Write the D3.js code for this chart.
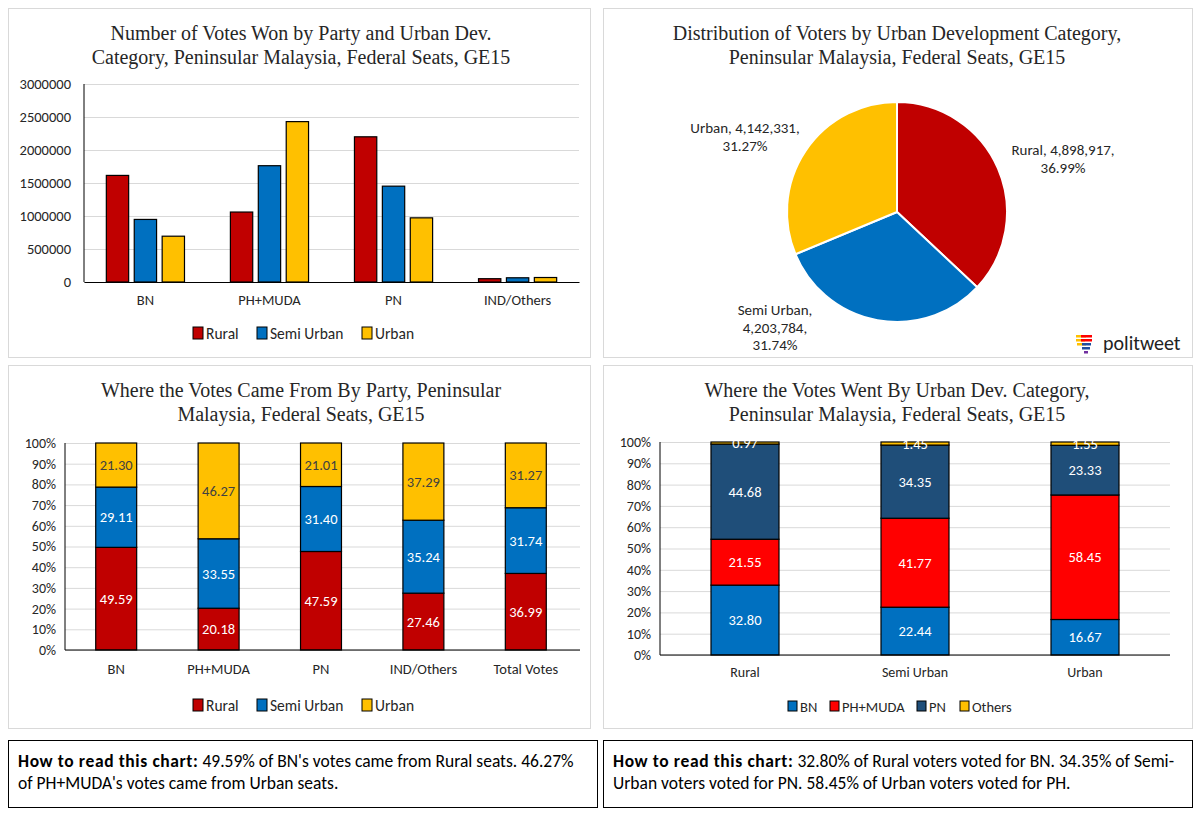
<!DOCTYPE html>
<html>
<head>
<meta charset="utf-8">
<script src="https://cdn.jsdelivr.net/npm/d3@7"></script>
<style>
  body { margin: 0; background: #fff; }
  text { font-family: Carlito, Lato, "Liberation Sans", sans-serif; }
  .title { font-family: "Liberation Serif", "DejaVu Serif", serif; font-size: 20px; fill: #262626; }
</style>
</head>
<body>
<div id="chart"></div>
<script>
// data
const parties = ["BN", "PH+MUDA", "PN", "IND/Others"];
const urbanCats = ["Rural", "Semi Urban", "Urban"];
const votesRural = [1615000, 1060000, 2200000, 50000];
const votesSemi = [948000, 1762000, 1452000, 64000];
const votesUrban = [694000, 2430000, 972000, 68000];
const yTicks1 = [0, 500000, 1000000, 1500000, 2000000, 2500000, 3000000];

const voterCount = [4898917, 4203784, 4142331];
const voterPct = [36.99, 31.74, 31.27];

const shareParties = ["BN", "PH+MUDA", "PN", "IND/Others", "Total Votes"];
const shareRural = [49.59, 20.18, 47.59, 27.46, 36.99];
const shareSemi = [29.11, 33.55, 31.40, 35.24, 31.74];
const shareUrban = [21.30, 46.27, 21.01, 37.29, 31.27];

const wentParties = ["BN", "PH+MUDA", "PN", "Others"];
const wentBN = [32.80, 22.44, 16.67];
const wentPH = [21.55, 41.77, 58.45];
const wentPN = [44.68, 34.35, 23.33];
const wentOthers = [0.97, 1.45, 1.55];
const pctTicks = [0, 10, 20, 30, 40, 50, 60, 70, 80, 90, 100];

const cRural = "#C00000", cSemi = "#0070C0", cUrban = "#FFC000";
const cBN = "#0070C0", cPH = "#FF0000", cPN = "#1F4E79", cOth = "#FFC000";
const grid = "#d9d9d9";

const svg = d3.select("#chart").append("svg")
  .attr("width", 1200).attr("height", 815);

// panel borders
const panels = [[8, 8, 582, 349], [603, 8, 589, 349], [8, 365, 582, 363], [603, 365, 589, 363]];
svg.selectAll("rect.panel").data(panels).join("rect")
  .attr("x", d => d[0] + 0.5).attr("y", d => d[1] + 0.5)
  .attr("width", d => d[2]).attr("height", d => d[3])
  .attr("fill", "none").attr("stroke", "#d9d9d9");

function title(lines, cx, y0) {
  lines.forEach((t, i) => {
    svg.append("text").attr("class", "title").attr("x", cx).attr("y", y0 + i * 24)
      .attr("text-anchor", "middle").text(t);
  });
}

function legend(items, colors, xs, y) {
  items.forEach((t, i) => {
    svg.append("rect").attr("x", xs[i]).attr("y", y - 12).attr("width", 10).attr("height", 12)
      .attr("fill", colors[i]).attr("stroke", "#000").attr("stroke-width", 1);
    svg.append("text").attr("x", xs[i] + 13).attr("y", y).attr("font-size", 15.5)
      .attr("fill", "#262626").text(t);
  });
}

// ---------- chart 1: grouped bars
title(["Number of Votes Won by Party and Urban Dev.", "Category, Peninsular Malaysia, Federal Seats, GE15"], 301, 40);
{
  const x = d3.scaleBand().domain(parties).range([84, 579]).paddingInner(0.37).paddingOuter(0.18);
  const x1 = d3.scaleBand().domain(urbanCats).range([0, x.bandwidth()]).paddingInner(0.2);
  const y = d3.scaleLinear().domain([0, 3000000]).range([282, 84]);
  const g = svg.append("g");
  g.append("g").attr("transform", "translate(84,0)")
    .call(d3.axisLeft(y).tickValues(yTicks1).tickSize(-495).tickFormat(d3.format("d")))
    .call(a => a.select(".domain").remove())
    .call(a => a.selectAll("line").attr("stroke", grid))
    .call(a => a.selectAll("text").attr("font-size", 14.5).attr("fill", "#262626").attr("x", -13));
  const series = [votesRural, votesSemi, votesUrban];
  const cols = [cRural, cSemi, cUrban];
  series.forEach((vals, si) => {
    g.selectAll(null).data(vals).join("rect")
      .attr("x", (d, i) => x(parties[i]) + x1(urbanCats[si]))
      .attr("y", d => y(d)).attr("width", x1.bandwidth()).attr("height", d => y(0) - y(d))
      .attr("fill", cols[si]).attr("stroke", "#000").attr("stroke-width", 1.2);
  });
  g.append("line").attr("x1", 84).attr("x2", 84).attr("y1", 84).attr("y2", 282).attr("stroke", "#000");
  g.append("g").attr("transform", "translate(0,282)")
    .call(d3.axisBottom(x).tickSize(0).tickPadding(13))
    .call(a => a.select(".domain").attr("stroke", "#000").attr("stroke-width", 1.2))
    .call(a => a.selectAll("text").attr("font-size", 14.5).attr("fill", "#262626"));
  legend(urbanCats, cols, [193, 257, 362], 339);
}

// ---------- chart 2: pie
title(["Distribution of Voters by Urban Development Category,", "Peninsular Malaysia, Federal Seats, GE15"], 897, 40);
{
  const cx = 897, cy = 212, r = 110;
  const pie = d3.pie().sort(null).value(d => d);
  const arcs = pie(voterCount);
  const arc = d3.arc().innerRadius(0).outerRadius(r);
  const cols = [cRural, cSemi, cUrban];
  const g = svg.append("g").attr("transform", `translate(${cx},${cy})`);
  g.selectAll("path").data(arcs).join("path")
    .attr("d", arc).attr("fill", (d, i) => cols[i]).attr("stroke", "#fff").attr("stroke-width", 2);
  const fmt = d3.format(",");
  const lab = [
    { lines: [urbanCats[0] + ", " + fmt(voterCount[0]) + ",", voterPct[0].toFixed(2) + "%"], x: 1063, y: 155 },
    { lines: [urbanCats[1] + ",", fmt(voterCount[1]) + ",", voterPct[1].toFixed(2) + "%"], x: 775, y: 315 },
    { lines: [urbanCats[2] + ", " + fmt(voterCount[2]) + ",", voterPct[2].toFixed(2) + "%"], x: 745, y: 133 }
  ];
  lab.forEach(l => {
    l.lines.forEach((t, i) => {
      svg.append("text").attr("x", l.x).attr("y", l.y + i * 17.5)
        .attr("text-anchor", "middle").attr("font-size", 15).attr("fill", "#262626").text(t);
    });
  });
  // logo
  const lg = svg.append("g").attr("transform", "translate(1076,335)");
  const stripes = [["#FFC000", 0, 0, 10], ["#FF0000", 5, 0, 11], ["#FFC000", 0, 4, 9], ["#FF0000", 5, 4, 11],
                   ["#FFC000", 1, 8, 9], ["#1F4E9F", 6, 8, 9], ["#1F4E9F", 6, 12, 8], ["#7030A0", 8, 16, 4]];
  stripes.forEach(s => lg.append("rect").attr("x", s[1]).attr("y", s[2]).attr("width", s[3]).attr("height", 2.5).attr("fill", s[0]));
  lg.append("text").attr("x", 27).attr("y", 15).attr("font-family", "Roboto, sans-serif").attr("font-weight", 300)
    .attr("font-size", 20).attr("fill", "#222").text("politweet");
}

function pctAxis(x0, x1, yScale) {
  svg.append("g").attr("transform", `translate(${x0},0)`)
    .call(d3.axisLeft(yScale).tickValues(pctTicks).tickSize(-(x1 - x0)).tickFormat(d => d + "%"))
    .call(a => a.select(".domain").remove())
    .call(a => a.selectAll("line").attr("stroke", grid))
    .call(a => a.selectAll("text").attr("font-size", 14).attr("fill", "#262626").attr("x", -9));
  svg.append("line").attr("x1", x0).attr("x2", x0).attr("y1", yScale(100)).attr("y2", yScale(0)).attr("stroke", "#000");
}

function stacked(cats, seriesList, colors, textCols, xScale, yScale) {
  const g = svg.append("g");
  cats.forEach((c, ci) => {
    let acc = 0;
    seriesList.forEach((vals, si) => {
      const v = vals[ci];
      const y0 = yScale(acc), y1 = yScale(acc + v);
      g.append("rect").attr("x", xScale(c)).attr("y", y1).attr("width", xScale.bandwidth())
        .attr("height", y0 - y1).attr("fill", colors[si]).attr("stroke", "#000").attr("stroke-width", 1.2);
      g.append("text").attr("x", xScale(c) + xScale.bandwidth() / 2).attr("y", (y0 + y1) / 2 + 5)
        .attr("text-anchor", "middle").attr("font-size", 14.5).attr("fill", textCols[si])
        .text(v.toFixed(2));
      acc += v;
    });
  });
}

// ---------- chart 3: where the votes came from
title(["Where the Votes Came From By Party, Peninsular", "Malaysia, Federal Seats, GE15"], 301, 397);
{
  const y = d3.scaleLinear().domain([0, 100]).range([650, 443]);
  const x = d3.scaleBand().domain(shareParties).range([65, 577]).paddingInner(0.6).paddingOuter(0.3);
  pctAxis(65, 580, y);
  stacked(shareParties, [shareRural, shareSemi, shareUrban], [cRural, cSemi, cUrban], ["#fff", "#fff", "#404040"], x, y);
  svg.append("g").attr("transform", "translate(0,650)")
    .call(d3.axisBottom(x).tickSize(0).tickPadding(14))
    .call(a => a.select(".domain").attr("stroke", "#000").attr("stroke-width", 1.2).attr("d", "M65,0H580"))
    .call(a => a.selectAll("text").attr("font-size", 14.5).attr("fill", "#262626"));
  legend(urbanCats, [cRural, cSemi, cUrban], [193, 257, 362], 711);
}

// ---------- chart 4: where the votes went
title(["Where the Votes Went By Urban Dev. Category,", "Peninsular Malaysia, Federal Seats, GE15"], 897, 397);
{
  const y = d3.scaleLinear().domain([0, 100]).range([655, 442]);
  const x = d3.scaleBand().domain(urbanCats).range([660, 1170]).paddingInner(0.6).paddingOuter(0.3);
  pctAxis(660, 1170, y);
  stacked(urbanCats, [wentBN, wentPH, wentPN, wentOthers], [cBN, cPH, cPN, cOth], ["#fff", "#fff", "#fff", "#fff"], x, y);
  svg.append("g").attr("transform", "translate(0,655)")
    .call(d3.axisBottom(x).tickSize(0).tickPadding(12))
    .call(a => a.select(".domain").attr("stroke", "#000").attr("stroke-width", 1.2).attr("d", "M660,0H1170"))
    .call(a => a.selectAll("text").attr("font-size", 14).attr("fill", "#262626"));
  const xs = [788, 830, 917, 960];
  wentParties.forEach((t, i) => {
    svg.append("rect").attr("x", xs[i]).attr("y", 701).attr("width", 9).attr("height", 10)
      .attr("fill", [cBN, cPH, cPN, cOth][i]).attr("stroke", "#000");
    svg.append("text").attr("x", xs[i] + 12).attr("y", 711.5).attr("font-size", 14.5)
      .attr("fill", "#262626").text(t);
  });
}

// ---------- explanation boxes
const notes = [
  { x: 8, lines: [["How to read this chart:", " 49.59% of BN's votes came from Rural seats. 46.27%"], ["", "of PH+MUDA's votes came from Urban seats."]] },
  { x: 603, lines: [["How to read this chart:", " 32.80% of Rural voters voted for BN. 34.35% of Semi-"], ["", "Urban voters voted for PN. 58.45% of Urban voters voted for PH."]] }
];
notes.forEach(n => {
  svg.append("rect").attr("x", n.x + 0.5).attr("y", 740.5).attr("width", 589).attr("height", 67)
    .attr("fill", "none").attr("stroke", "#000");
  n.lines.forEach((l, i) => {
    const t = svg.append("text").attr("x", n.x + 10).attr("y", 767 + i * 22).attr("font-size", 17.5).attr("fill", "#000");
    t.append("tspan").attr("font-weight", "bold").attr("letter-spacing", 0.6).text(l[0]);
    t.append("tspan").text(l[1]);
  });
});
</script>
</body>
</html>
